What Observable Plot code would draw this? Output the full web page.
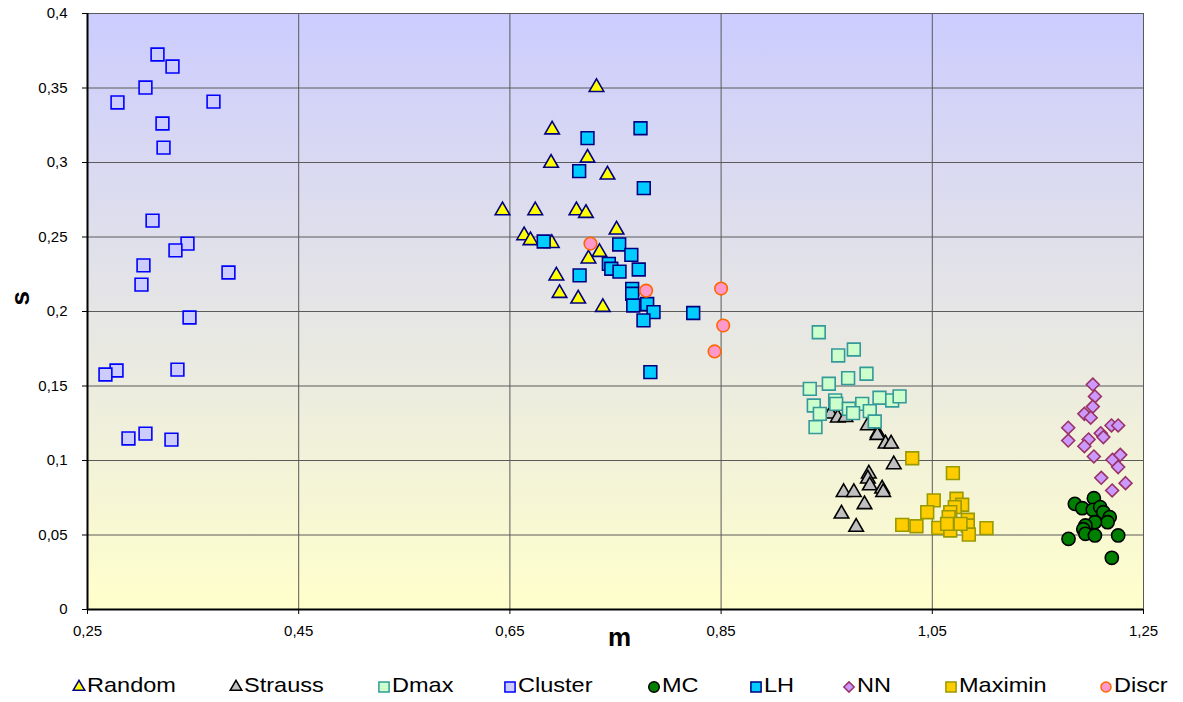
<!DOCTYPE html>
<html>
<head>
<meta charset="utf-8">
<script src="https://cdn.jsdelivr.net/npm/d3@7"></script>
<script src="https://cdn.jsdelivr.net/npm/@observablehq/plot@0.6"></script>
<style>
  html, body { margin: 0; padding: 0; background: #ffffff; }
  body { font-family: "Liberation Sans", Arial, sans-serif; }
  #wrap { width: 1183px; }
  #legend { position: relative; width: 1183px; height: 42px; }
  .item { position: absolute; top: 0; height: 42px; }
  .item svg { position: absolute; top: 19px; }
  .item span { position: absolute; top: 12px; font-size: 21px; line-height: 26px; white-space: nowrap; transform: scaleX(1.12); transform-origin: left center; color: #000; }
</style>
</head>
<body>
<div id="wrap"></div>
<script>
// ---- data (m, s) ----
const random = [[0.732,0.3505],[0.690,0.322],[0.7235,0.3031],[0.689,0.2996],[0.7424,0.2917],[0.643,0.2678],[0.674,0.2678],[0.713,0.2678],[0.722,0.266],[0.6635,0.251],[0.6695,0.2477],[0.6897,0.2458],[0.751,0.2548],[0.7348,0.2398],[0.7244,0.2354],[0.694,0.224],[0.697,0.2123],[0.7147,0.2085],[0.738,0.2029]];
const strauss = [[0.9536,0.1313],[0.9605,0.1287],[0.9678,0.129],[0.989,0.1235],[0.9984,0.1183],[0.998,0.117],[1.0057,0.1112],[1.011,0.1112],[1.0135,0.0973],[0.9899,0.0911],[0.989,0.0877],[0.9908,0.0832],[1.0025,0.081],[1.0035,0.0787],[0.966,0.0787],[0.9757,0.0787],[0.9858,0.0705],[0.964,0.0642],[0.9779,0.0553]];
const dmax = [[0.9425,0.1861],[0.9609,0.1705],[0.9757,0.1745],[0.9703,0.1553],[0.9877,0.1582],[0.934,0.1481],[0.952,0.1515],[0.9378,0.1369],[0.9435,0.1313],[0.958,0.1403],[0.959,0.138],[0.971,0.1347],[0.9836,0.138],[0.975,0.1318],[0.9908,0.1331],[1.0,0.1421],[1.012,0.1403],[1.019,0.143],[0.9955,0.1262],[0.9394,0.1224]];
const cluster = [[0.3163,0.3725],[0.3305,0.3644],[0.3049,0.3503],[0.2784,0.3403],[0.3693,0.3409],[0.321,0.3262],[0.322,0.310],[0.3116,0.261],[0.3447,0.2456],[0.3333,0.241],[0.303,0.231],[0.3835,0.2262],[0.3011,0.218],[0.3466,0.196],[0.2775,0.1604],[0.267,0.1577],[0.3352,0.161],[0.2888,0.1148],[0.3049,0.118],[0.3295,0.114]];
const mc = [[1.185,0.0709],[1.203,0.0747],[1.192,0.068],[1.202,0.0669],[1.209,0.0687],[1.212,0.0653],[1.218,0.062],[1.216,0.0586],[1.204,0.0586],[1.195,0.0564],[1.193,0.0539],[1.195,0.0508],[1.204,0.0497],[1.179,0.0474],[1.226,0.0497],[1.22,0.0347]];
const lh = [[0.7737,0.323],[0.7235,0.3164],[0.7156,0.2942],[0.7768,0.2828],[0.682,0.247],[0.7535,0.245],[0.765,0.238],[0.7437,0.232],[0.746,0.2287],[0.7538,0.2268],[0.772,0.2282],[0.716,0.2242],[0.7658,0.2152],[0.7658,0.2119],[0.780,0.205],[0.786,0.1996],[0.7668,0.204],[0.7765,0.194],[0.8236,0.199],[0.783,0.1593]];
const nn = [[1.202,0.151],[1.204,0.143],[1.202,0.1362],[1.194,0.1313],[1.2,0.1287],[1.1787,0.122],[1.1787,0.1134],[1.198,0.1141],[1.194,0.1096],[1.203,0.1027],[1.2197,0.1235],[1.226,0.1235],[1.2095,0.1183],[1.212,0.1157],[1.2206,0.1005],[1.228,0.1038],[1.226,0.0956],[1.21,0.0884],[1.233,0.0848],[1.2203,0.0799]];
const maximin = [[1.031,0.1015],[1.0695,0.0915],[1.0514,0.0732],[1.0729,0.0743],[1.0783,0.0703],[1.0713,0.0687],[1.0452,0.0653],[1.067,0.0653],[1.0655,0.062],[1.0836,0.0602],[1.0215,0.0568],[1.035,0.0559],[1.0557,0.0548],[1.0836,0.0564],[1.1013,0.0546],[1.067,0.053],[1.0846,0.0503],[1.064,0.0575],[1.0767,0.0575]];
const discr = [[0.7263,0.2456],[0.779,0.214],[0.850,0.2154],[0.852,0.1906],[0.8438,0.1732]];

const xTicks = [0.25, 0.45, 0.65, 0.85, 1.05, 1.25];
const yTicks = [0, 0.05, 0.1, 0.15, 0.2, 0.25, 0.3, 0.35, 0.4];
const seriesNames = ["Random", "Strauss", "Dmax", "Cluster", "MC", "LH", "NN", "Maximin", "Discr"];

// ---- styles ----
const series = [
  {name: "Random",  data: random,  symbol: "triangle", r: 5.4, fill: "#ffff00", stroke: "#000080", legendX: 87},
  {name: "Strauss", data: strauss, symbol: "triangle", r: 5.4, fill: "#c0c0c0", stroke: "#000000", legendX: 244},
  {name: "Dmax",    data: dmax,    symbol: "square",   r: 7.2, fill: "#ccffcc", stroke: "#339999", legendX: 392},
  {name: "Cluster", data: cluster, symbol: "square",   r: 7.2, fill: "#ccccff", stroke: "#0000ff", legendX: 518},
  {name: "MC",      data: mc,      symbol: "circle",   r: 6.6, fill: "#008000", stroke: "#000000", legendX: 662},
  {name: "LH",      data: lh,      symbol: "square",   r: 7.2, fill: "#00ccff", stroke: "#000080", legendX: 764},
  {name: "NN",      data: nn,      symbol: "diamond2", r: 5.8, fill: "#cc99ff", stroke: "#993366", legendX: 857},
  {name: "Maximin", data: maximin, symbol: "square",   r: 7.2, fill: "#ffcc00", stroke: "#999900", legendX: 959},
  {name: "Discr",   data: discr,   symbol: "circle",   r: 6.3, fill: "#ff99cc", stroke: "#ff6600", legendX: 1114}
];

const fmt = d => String(d).replace(".", ",");

function background(index, scales, values, dims) {
  const ns = "http://www.w3.org/2000/svg";
  const g = document.createElementNS(ns, "g");
  const x0 = dims.marginLeft, y0 = dims.marginTop;
  const w = dims.width - dims.marginLeft - dims.marginRight;
  const h = dims.height - dims.marginTop - dims.marginBottom;
  g.innerHTML = `<defs><linearGradient id="bgGrad" x1="0" y1="0" x2="0" y2="1">
    <stop offset="0" stop-color="#ccccff"/><stop offset="1" stop-color="#ffffcc"/></linearGradient></defs>
    <rect x="${x0}" y="${y0}" width="${w}" height="${h}" fill="url(#bgGrad)"/>`;
  return g;
}

const marks = [
  background,
  Plot.gridY(yTicks, {stroke: "#5a5a5a", strokeOpacity: 1, strokeWidth: 1}),
  Plot.gridX(xTicks, {stroke: "#5a5a5a", strokeOpacity: 1, strokeWidth: 1}),
  Plot.ruleX([xTicks[0]], {stroke: "#000", strokeWidth: 2}),
  Plot.ruleY([yTicks[0]], {stroke: "#000", strokeWidth: 2}),
  Plot.axisY(yTicks, {tickFormat: fmt, tickSize: 5, tickPadding: 15, fontSize: 15, label: null, stroke: "#000"}),
  Plot.axisX(xTicks, {tickFormat: fmt, tickSize: 5, tickPadding: 11, fontSize: 15, label: null, stroke: "#000"}),
  Plot.text(["m"], {frameAnchor: "bottom", dx: 4, dy: 28, text: d => d, fontSize: 26, fontWeight: "bold", lineAnchor: "middle"}),
  Plot.text(["s"], {frameAnchor: "left", dx: -67, dy: -6, text: d => d, fontSize: 26, fontWeight: "bold", rotate: -90, lineAnchor: "middle"})
];
for (const s of series) {
  marks.push(Plot.dot(s.data, {x: d => d[0], y: d => d[1], symbol: s.symbol, r: s.r, fill: s.fill, stroke: s.stroke, strokeWidth: 1.6}));
}

const chart = Plot.plot({
  width: 1183,
  height: 660,
  marginLeft: 87,
  marginRight: 40,
  marginTop: 13,
  marginBottom: 51,
  x: {domain: [xTicks[0], xTicks[xTicks.length - 1]], label: null},
  y: {domain: [yTicks[0], yTicks[yTicks.length - 1]], label: null},
  style: {fontFamily: '"Liberation Sans", Arial, sans-serif', fontSize: "15px", color: "#000", background: "#fff", overflow: "visible"},
  marks
});
document.getElementById("wrap").appendChild(chart);

// ---- legend ----
const legend = document.createElement("div");
legend.id = "legend";
for (const s of series) {
  const item = document.createElement("div");
  item.className = "item";
  item.style.left = (s.legendX - 16) + "px";
  const sym = {triangle: d3.symbolTriangle, square: d3.symbolSquare, circle: d3.symbolCircle, diamond2: d3.symbolDiamond2}[s.symbol];
  const rr = s.r * 0.8;
  const svg = d3.create("svg").attr("width", 16).attr("height", 16).style("left", "0px");
  svg.append("path")
    .attr("transform", "translate(8,8)")
    .attr("d", d3.symbol(sym, Math.PI * rr * rr)())
    .attr("fill", s.fill).attr("stroke", s.stroke).attr("stroke-width", 1.5);
  item.appendChild(svg.node());
  const span = document.createElement("span");
  span.style.left = "16px";
  span.textContent = s.name;
  item.appendChild(span);
  legend.appendChild(item);
}
document.getElementById("wrap").appendChild(legend);
</script>
</body>
</html>
